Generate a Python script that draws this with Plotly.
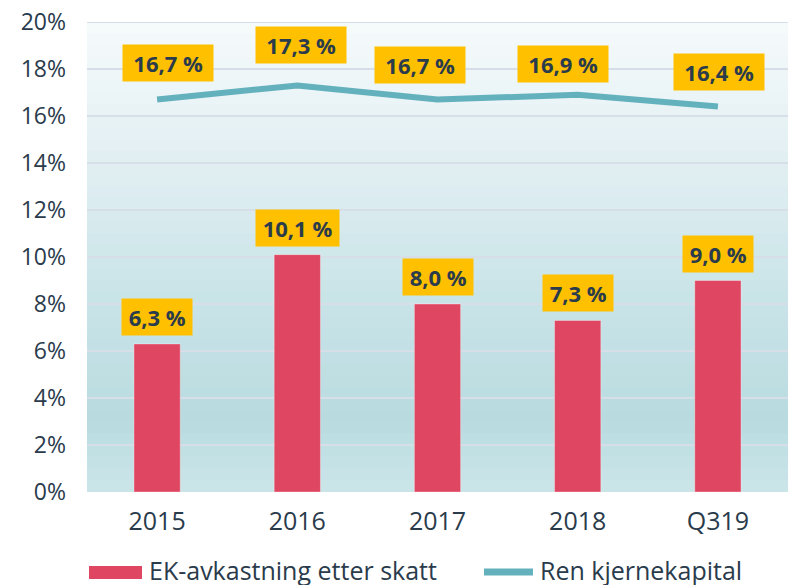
import plotly.graph_objects as go

categories = ["2015", "2016", "2017", "2018", "Q319"]
ek_avkastning = [6.3, 10.1, 8.0, 7.3, 9.0]
ren_kjernekapital = [16.7, 17.3, 16.7, 16.9, 16.4]
y_ticks = [0, 2, 4, 6, 8, 10, 12, 14, 16, 18, 20]
y_tick_labels = [f"{v}%" for v in y_ticks]
series_names = ["EK-avkastning etter skatt", "Ren kjernekapital"]

# label placement nudges (pixels) for the line's value labels
line_label_dx = [11, 4, -18, -15, 1]
line_label_dy = [18, 21, 16, 12, 16]

BAR_COLOR = "#DF4661"
LINE_COLOR = "#63B1BC"
LABEL_BG = "#FFC000"
TEXT_COLOR = "#2A3B4C"
FONT = "Open Sans"

W, H = 788, 585
PL, PR, PT, PB = 87, 788, 22, 492


def px_x(p):
    return (p - PL) / (PR - PL)


def px_y(p):
    return (PB - p) / (PB - PT)


def fmt(v):
    return f"{v:.1f}".replace(".", ",") + " %"


fig = go.Figure()
fig.add_trace(go.Bar(x=categories, y=ek_avkastning, name=series_names[0],
                     marker=dict(color=BAR_COLOR, line=dict(color="rgba(255,255,255,0.35)", width=1)),
                     width=0.33, showlegend=False))
fig.add_trace(go.Scatter(x=categories, y=ren_kjernekapital, name=series_names[1], mode="lines",
                         line=dict(color=LINE_COLOR, width=6), showlegend=False))

# background gradient (plot area)
stops = [(0.0, (204, 230, 233)), (3.0, (184, 219, 224)), (8.0, (200, 227, 231)),
         (14.0, (225, 239, 242)), (20.0, (246, 250, 251))]


def col_at(v):
    for (a, ca), (b, cb) in zip(stops[:-1], stops[1:]):
        if a <= v <= b:
            t = (v - a) / (b - a)
            return "rgb(%d,%d,%d)" % tuple(round(ca[i] + (cb[i] - ca[i]) * t) for i in range(3))
    return "rgb(246,250,251)"


shapes = []
n = 40
for i in range(n):
    y0 = 20.0 * i / n
    y1 = 20.0 * (i + 1) / n
    shapes.append(dict(type="rect", xref="paper", yref="y", x0=0, x1=1, y0=y0,
                       y1=min(y1 + 0.2, 20.0),
                       fillcolor=col_at((y0 + y1) / 2), line=dict(width=0), layer="below"))
for v in y_ticks[1:]:
    shapes.append(dict(type="line", xref="paper", yref="y", x0=0, x1=1, y0=v, y1=v,
                       line=dict(color="rgba(214,222,232,1)", width=2), layer="below"))

# manual legend
LEG_Y = 572
shapes.append(dict(type="rect", xref="paper", yref="paper", x0=px_x(89), x1=px_x(142),
                   y0=px_y(579), y1=px_y(566), fillcolor=BAR_COLOR, line=dict(width=0)))
shapes.append(dict(type="line", xref="paper", yref="paper", x0=px_x(484), x1=px_x(533),
                   y0=px_y(LEG_Y), y1=px_y(LEG_Y), line=dict(color=LINE_COLOR, width=7)))

annotations = []
pad = "\u2009"
for i, v in enumerate(ek_avkastning):
    annotations.append(dict(x=i, y=v, xref="x", yref="y", text=pad + fmt(v) + pad, showarrow=False,
                            yanchor="bottom", yshift=8, bgcolor=LABEL_BG, borderpad=3,
                            font=dict(family=FONT, size=22, color=TEXT_COLOR, weight="bold")))
for i, v in enumerate(ren_kjernekapital):
    annotations.append(dict(x=i, y=v, xref="x", yref="y", text=pad + "\u2009" + fmt(v) + "\u2009" + pad,
                            showarrow=False, yanchor="bottom",
                            xshift=line_label_dx[i], yshift=line_label_dy[i],
                            bgcolor=LABEL_BG, borderpad=3,
                            font=dict(family=FONT, size=22, color=TEXT_COLOR, weight="bold")))
annotations.append(dict(xref="paper", yref="paper", x=px_x(147), y=px_y(570),
                        xanchor="left", yanchor="middle", text=series_names[0], showarrow=False,
                        font=dict(family=FONT, size=25, color=TEXT_COLOR)))
annotations.append(dict(xref="paper", yref="paper", x=px_x(538), y=px_y(570),
                        xanchor="left", yanchor="middle", text=series_names[1], showarrow=False,
                        font=dict(family=FONT, size=25, color=TEXT_COLOR)))

fig.update_layout(
    width=W, height=H,
    margin=dict(l=PL, r=W - PR, t=PT, b=H - PB, pad=0),
    paper_bgcolor="white", plot_bgcolor="rgba(0,0,0,0)",
    shapes=shapes, annotations=annotations,
    font=dict(family=FONT, color=TEXT_COLOR),
    xaxis=dict(type="category", range=[-0.5, 4.5], showgrid=False, zeroline=False, showline=False,
               tickfont=dict(family=FONT, size=25, color=TEXT_COLOR), ticks="", ticklabelstandoff=12,
               fixedrange=True),
    yaxis=dict(range=[0, 20], tickvals=y_ticks, ticktext=y_tick_labels, showgrid=False,
               zeroline=False, showline=False, ticks="", ticklabelstandoff=20,
               ticklabeloverflow="allow",
               tickfont=dict(family=FONT, size=23, color=TEXT_COLOR), fixedrange=True),
    bargap=0.67,
    hovermode=False,
)

fig.write_html(
    "out.html",
    config={"displayModeBar": False},
    post_script="document.body.style.margin='0';document.body.style.overflow='hidden';",
)
